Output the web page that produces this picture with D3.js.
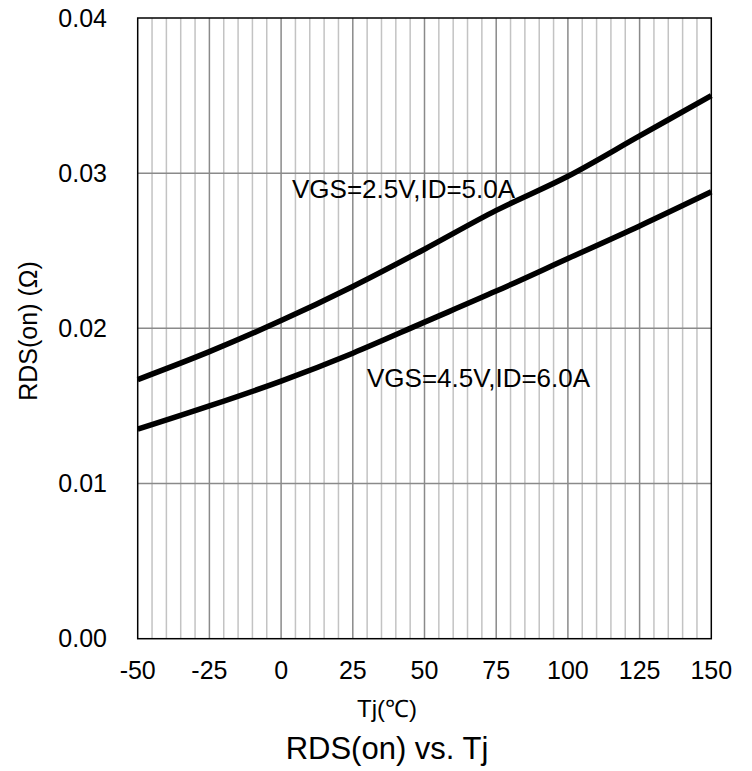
<!DOCTYPE html>
<meta charset="utf-8">
<style>
body { margin: 0; background: #fff; }
text { font-family: "Liberation Sans", Arial, sans-serif; fill: #000; }
.grid-minor { stroke: #c3c3c3; stroke-width: 1.5px; }
.grid-major { stroke: #8a8a8a; stroke-width: 1.5px; }
.curve { fill: none; stroke: #000; stroke-width: 5.5px; stroke-linejoin: round; }
</style>
<svg width="752" height="771"></svg>
<script src="https://cdn.jsdelivr.net/npm/d3@7"></script>
<script>

var tj = [-50, -25, 0, 25, 50, 75, 100, 125, 150];
var rdsVgs25 = [0.0167, 0.0185, 0.0205, 0.0227, 0.0251, 0.0276, 0.0298, 0.0324, 0.0350];
var rdsVgs45 = [0.0135, 0.0150, 0.0166, 0.0184, 0.0204, 0.0224, 0.0245, 0.0266, 0.0288];
var yTicks = [0, 0.01, 0.02, 0.03, 0.04];
var seriesLabels = ["VGS=2.5V,ID=5.0A", "VGS=4.5V,ID=6.0A"];

var svg = d3.select("svg");

var plotL = 137.7, plotR = 711.3, plotT = 18, plotB = 638.7;

var x = d3.scaleLinear().domain([-50, 150]).range([plotL, plotR]);
var y = d3.scaleLinear().domain([0, 0.04]).range([plotB, plotT]);

// vertical grid: every 5 degC, darker every 25
var g = svg.append("g");
g.selectAll("line.v")
    .data(d3.range(-45, 150, 5))
  .enter().append("line")
    .attr("class", function(d) { return d % 25 === 0 ? "grid-major" : "grid-minor"; })
    .attr("x1", x).attr("x2", x)
    .attr("y1", plotT).attr("y2", plotB);

g.selectAll("line.h")
    .data(yTicks.slice(1, -1))
  .enter().append("line")
    .attr("class", "grid-major")
    .attr("x1", plotL).attr("x2", plotR)
    .attr("y1", y).attr("y2", y);

// plot frame
svg.append("rect")
    .attr("x", plotL).attr("y", plotT)
    .attr("width", plotR - plotL).attr("height", plotB - plotT)
    .attr("fill", "none").attr("stroke", "#000").attr("stroke-width", 1.5);

var line = d3.line()
    .curve(d3.curveCatmullRom.alpha(0.5))
    .x(function(d) { return x(d[0]); })
    .y(function(d) { return y(d[1]); });

[rdsVgs25, rdsVgs45].forEach(function(vals) {
  svg.append("path")
      .attr("class", "curve")
      .attr("d", line(d3.zip(tj, vals)));
});

// tick labels
svg.append("g").selectAll("text")
    .data(tj)
  .enter().append("text")
    .attr("x", x)
    .attr("y", 679)
    .attr("text-anchor", "middle")
    .style("font-size", "25px")
    .text(function(d) { return d; });

svg.append("g").selectAll("text")
    .data(yTicks)
  .enter().append("text")
    .attr("x", 107)
    .attr("y", y)
    .attr("dy", "0.35em")
    .attr("text-anchor", "end")
    .style("font-size", "25px")
    .text(d3.format(".2f"));

// series labels
svg.append("text")
    .attr("x", 292).attr("y", 198)
    .style("font-size", "26px")
    .text(seriesLabels[0]);

svg.append("text")
    .attr("x", 367).attr("y", 387)
    .style("font-size", "26px")
    .text(seriesLabels[1]);

// axis titles
svg.append("text")
    .attr("x", 387).attr("y", 717)
    .attr("text-anchor", "middle")
    .style("font-size", "24px")
    .text("Tj(℃)");

svg.append("text")
    .attr("transform", "translate(37,331) rotate(-90)")
    .attr("text-anchor", "middle")
    .style("font-size", "25px")
    .text("RDS(on) (Ω)");

svg.append("text")
    .attr("x", 387).attr("y", 759)
    .attr("text-anchor", "middle")
    .style("font-size", "31px")
    .text("RDS(on) vs. Tj");

</script>
